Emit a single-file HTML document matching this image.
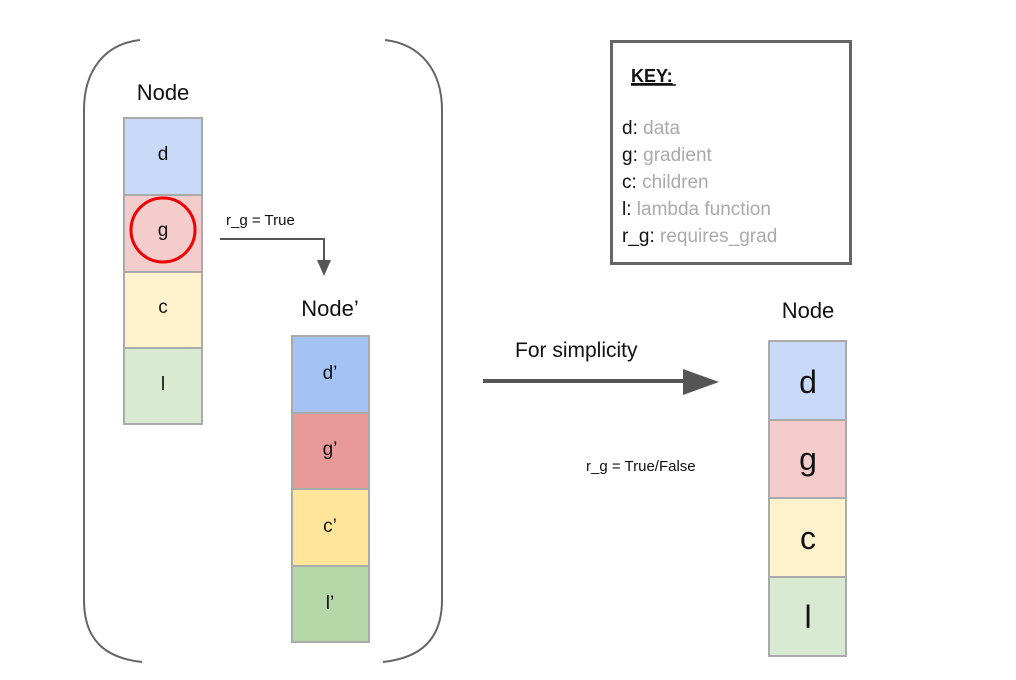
<!DOCTYPE html>
<html><head><meta charset="utf-8"><style>
html,body{margin:0;padding:0;background:#fff;width:1016px;height:680px;overflow:hidden}
svg{display:block}
text{font-family:"Liberation Sans","DejaVu Sans",sans-serif;fill:#111}
</style></head><body>
<svg width="1016" height="680" viewBox="0 0 1016 680" xmlns="http://www.w3.org/2000/svg">
<g fill="none" stroke="#666" stroke-width="2">
<path d="M140,40 C105,44 84,70 84,110 L84,600 C84,640 105,658 142,662"/>
<path d="M385,40 C420,44 442,70 442,110 L442,600 C442,640 420,658 383,662"/>
</g>
<text x="163" y="100" font-size="22" text-anchor="middle">Node</text>
<g stroke="#aaa" stroke-width="2">
<rect x="124" y="118" width="78" height="77" fill="#c9daf8"/>
<rect x="124" y="195" width="78" height="77" fill="#f4cccc"/>
<rect x="124" y="272" width="78" height="76" fill="#fff2cc"/>
<rect x="124" y="348" width="78" height="76" fill="#d9ead3"/>
</g>
<text x="163" y="160" font-size="19" text-anchor="middle">d</text>
<text x="163" y="236" font-size="19" text-anchor="middle">g</text>
<text x="163" y="313" font-size="19" text-anchor="middle">c</text>
<text x="163" y="390" font-size="19" text-anchor="middle">l</text>
<circle cx="163" cy="230" r="32" fill="none" stroke="#e00" stroke-width="3"/>
<text x="226" y="225" font-size="15">r_g = True</text>
<path d="M220,239 L324,239 L324,262" fill="none" stroke="#555" stroke-width="2"/>
<polygon points="317,260 331,260 324,276" fill="#555"/>
<text x="330" y="316" font-size="22" text-anchor="middle">Node’</text>
<g stroke="#aaa" stroke-width="2">
<rect x="292" y="336" width="77" height="77" fill="#a4c2f4"/>
<rect x="292" y="413" width="77" height="76" fill="#ea9999"/>
<rect x="292" y="489" width="77" height="77" fill="#ffe599"/>
<rect x="292" y="566" width="77" height="76" fill="#b6d7a8"/>
</g>
<text x="330" y="379" font-size="19" text-anchor="middle">d’</text>
<text x="330" y="455" font-size="19" text-anchor="middle">g’</text>
<text x="330" y="532" font-size="19" text-anchor="middle">c’</text>
<text x="330" y="609" font-size="19" text-anchor="middle">l’</text>
<text x="515" y="357" font-size="21">For simplicity</text>
<line x1="483" y1="381" x2="690" y2="381" stroke="#555" stroke-width="4"/>
<polygon points="683,369 719,382 683,395" fill="#555"/>
<text x="586" y="471" font-size="15">r_g = True/False</text>
<text x="808" y="318" font-size="22" text-anchor="middle">Node</text>
<g stroke="#aaa" stroke-width="2">
<rect x="769" y="341" width="77" height="79" fill="#c9daf8"/>
<rect x="769" y="420" width="77" height="78" fill="#f4cccc"/>
<rect x="769" y="498" width="77" height="79" fill="#fff2cc"/>
<rect x="769" y="577" width="77" height="79" fill="#d9ead3"/>
</g>
<text x="808" y="393" font-size="32" text-anchor="middle">d</text>
<text x="808" y="470" font-size="32" text-anchor="middle">g</text>
<text x="808" y="549" font-size="32" text-anchor="middle">c</text>
<text x="808" y="628" font-size="32" text-anchor="middle">l</text>
<rect x="611.5" y="41.5" width="239" height="222" fill="#fff" stroke="#666" stroke-width="3"/>
<text x="631" y="82" font-size="18" font-weight="bold" text-decoration="underline">KEY:</text>
<line x1="631" y1="85" x2="676" y2="85" stroke="#111" stroke-width="1.5"/>
<g font-size="19">
<text x="622" y="134">d: <tspan fill="#aaa">data</tspan></text>
<text x="622" y="161">g: <tspan fill="#aaa">gradient</tspan></text>
<text x="622" y="188">c: <tspan fill="#aaa">children</tspan></text>
<text x="622" y="215">l: <tspan fill="#aaa">lambda function</tspan></text>
<text x="622" y="242">r_g: <tspan fill="#aaa">requires_grad</tspan></text>
</g>
</svg>
</body></html>
